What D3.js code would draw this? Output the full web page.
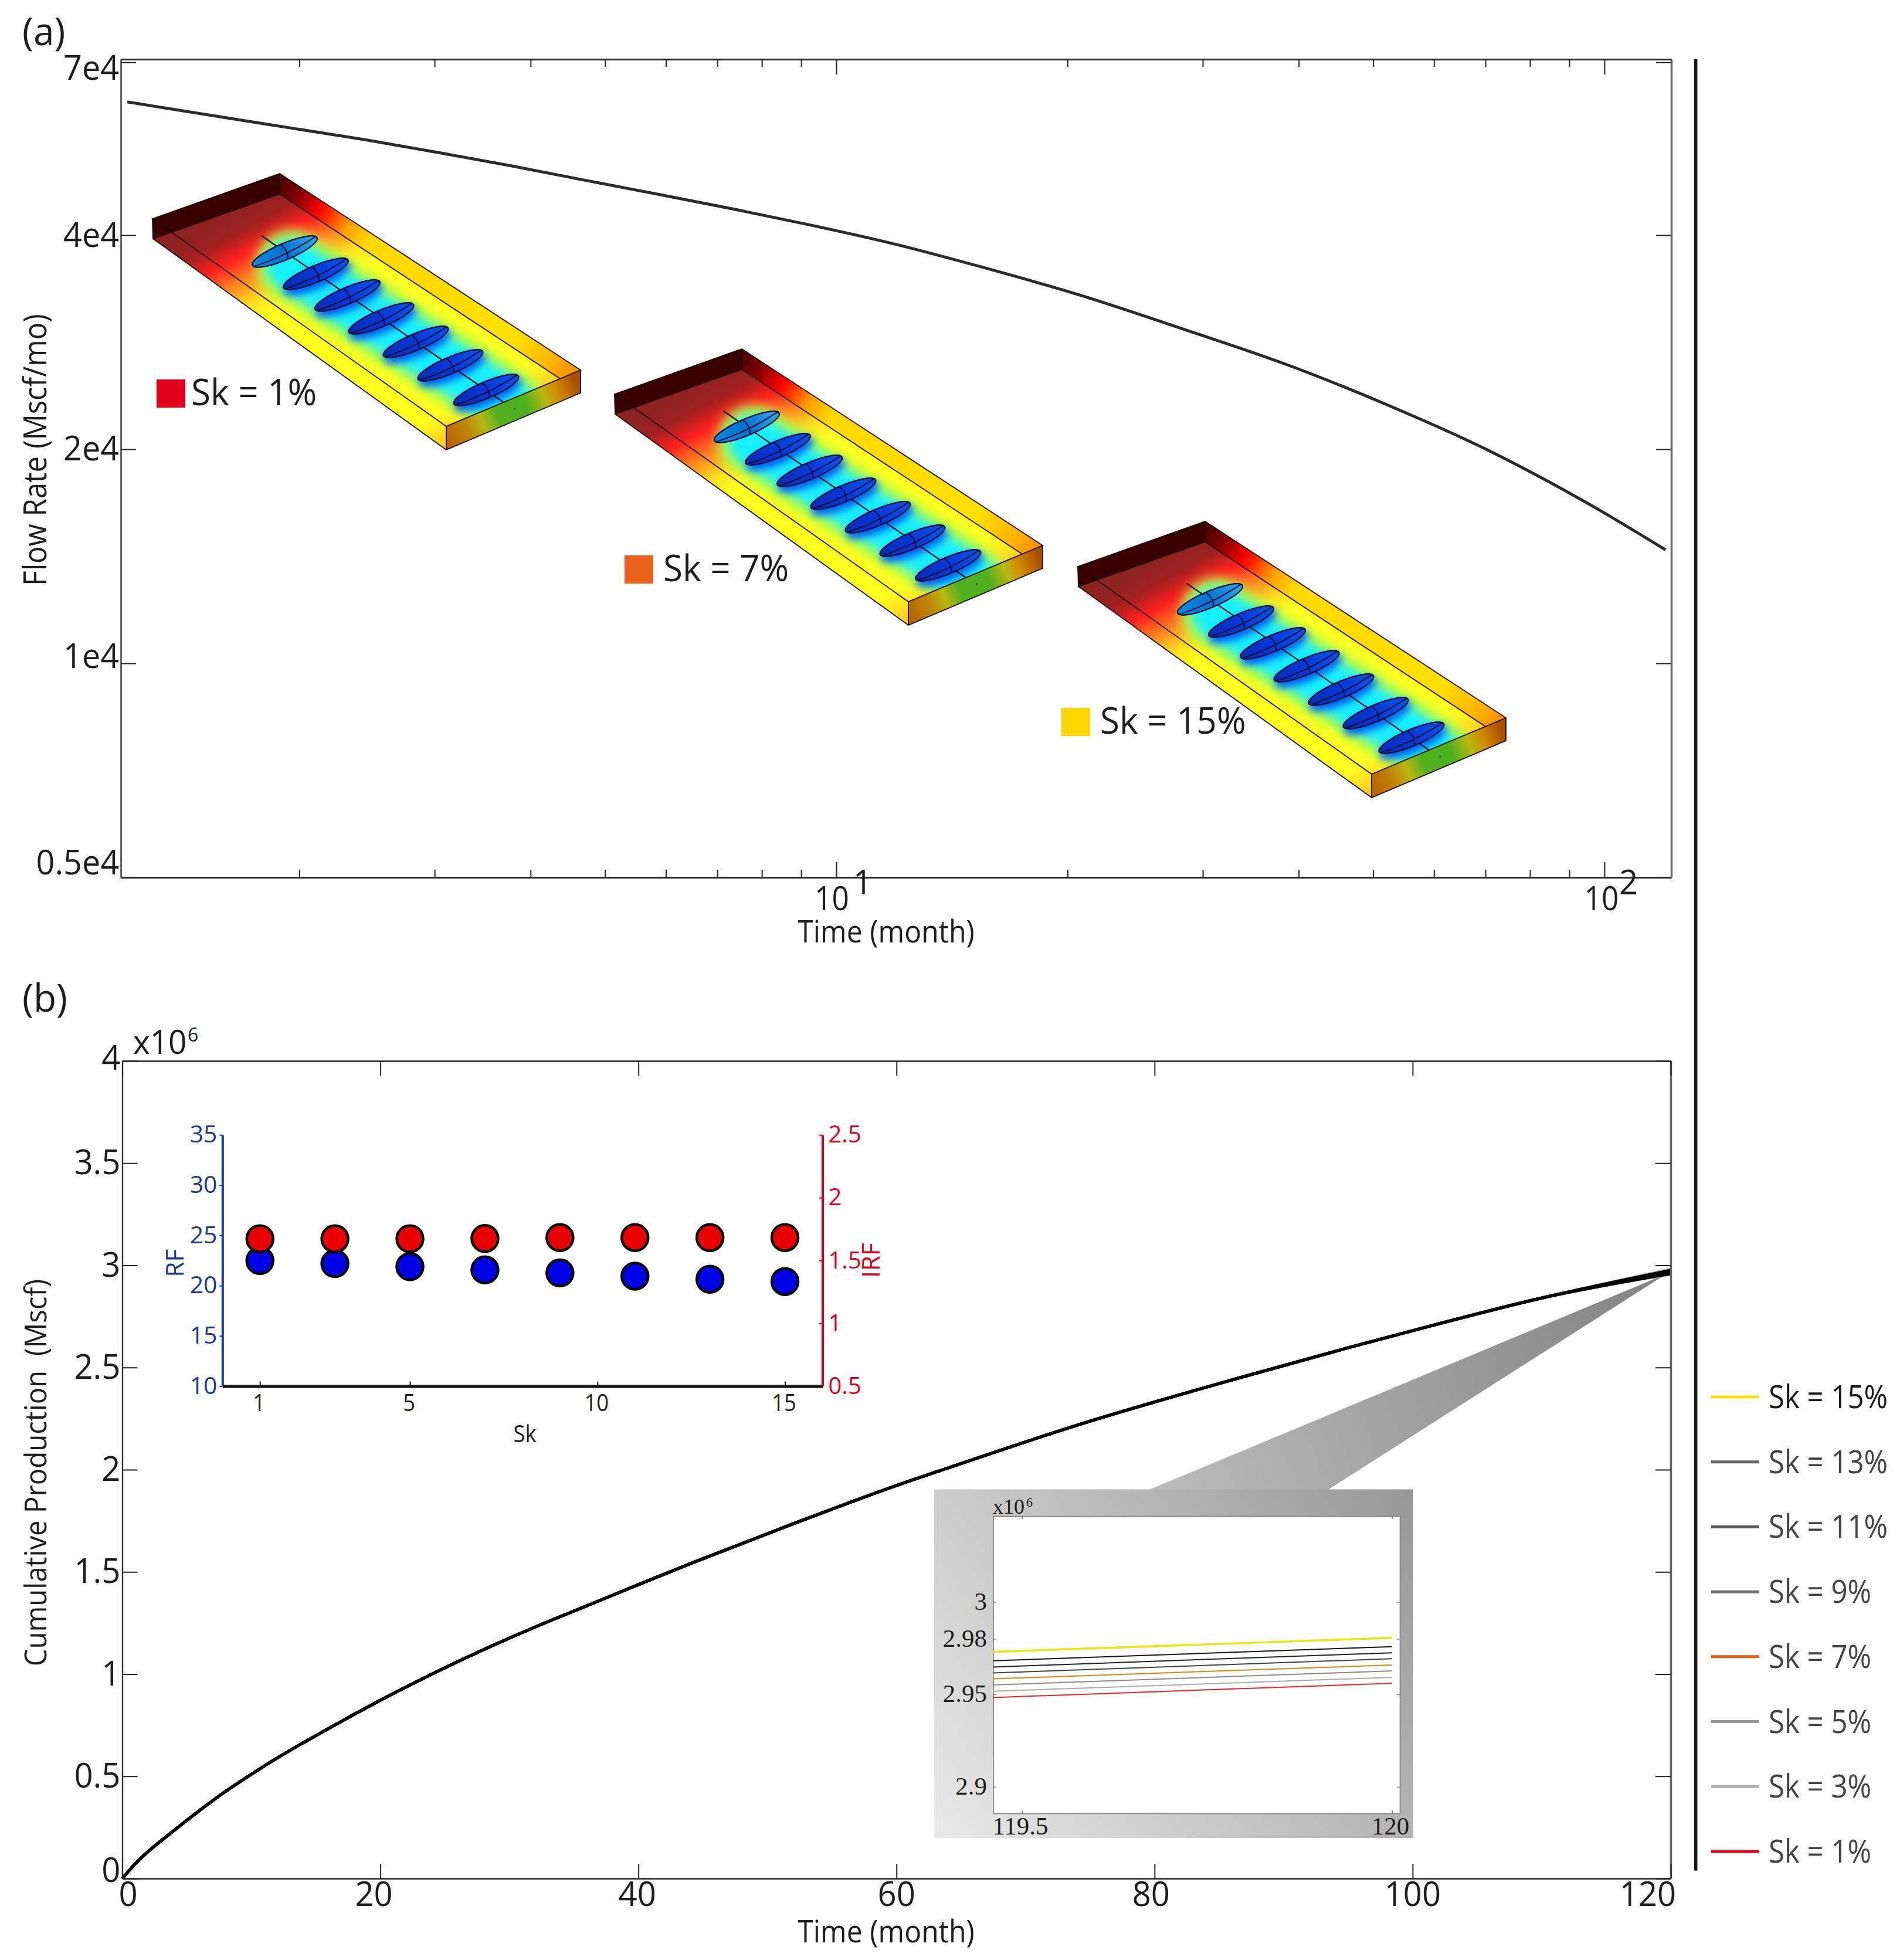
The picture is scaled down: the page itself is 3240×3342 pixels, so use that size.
<!DOCTYPE html>
<html><head><meta charset="utf-8">
<script src="https://cdn.jsdelivr.net/npm/d3@7/dist/d3.min.js"></script>
<style>html,body{margin:0;padding:0;background:#fff}svg{display:block}text{font-family:"Open Sans",sans-serif;fill:#1d1d1b}</style>
</head><body><svg id="c" width="3240" height="3342" viewBox="0 0 3240 3342"></svg>
<script>
// ---------- data ----------
const flowTime = [1.194,1.557,1.947,2.43,3.031,3.783,4.73,5.902,7.366,9.19,11.8,15.43,20.96,28.4,38.6,52.3,71,96.2,120.1];
const flowRate = [61570,58800,56600,54500,52270,50040,47730,45600,43500,41400,38960,36100,32830,29470,26300,23060,19870,16670,14440];
const flowTicks = [5000,10000,20000,40000,70000];
const flowTickLabels = ["0.5e4","1e4","2e4","4e4","7e4"];
const timeMinor = [2,3,4,5,6,7,8,9,20,30,40,50,60,70,80,90];
const timeMajor = [10,100];

const cumTime = [0,1,2.06,3.68,5.71,7.73,9.76,11.78,13.8,15.83,17.85,19.88,23.93,27.98,32.02,36.07,40.12,44.17,48.22,52.27,56.32,60.36,63.12,74,87,94.9,101.9,110,120];
const cumShared = [0,.072,.135,.218,.319,.414,.5,.581,.656,.728,.799,.868,.998,1.119,1.231,1.336,1.441,1.544,1.643,1.742,1.838,1.931,1.99,2.218,2.457,2.595,2.712,2.84];
const skLevels = [15,13,11,9,7,5,3,1];
const cumAt120 = [2.9806,2.9758,2.9725,2.9693,2.9659,2.9627,2.9592,2.956];
const cumAt1195 = [2.973,2.9682,2.9648,2.9616,2.9584,2.9551,2.9517,2.9483];
const legendColors = ["#ffdc00","#666666","#555555","#707070","#e8601c","#9a9a9a","#b2b2b2","#e2001a"];
const zoomColors = ["#efe31c","#161616","#222222","#444444","#d48a12","#8c8c8c","#ababab","#ee2222"];
const cumTicks = [0,.5,1,1.5,2,2.5,3,3.5,4];
const cumTimeTicks = [0,20,40,60,80,100,120];

const skPoints = [1,3,5,7,9,11,13,15];
const rfValues = [22.49,22.19,21.89,21.57,21.27,20.94,20.64,20.41];
const irfValues = [1.673,1.673,1.673,1.675,1.682,1.682,1.682,1.682];
const rfTicks = [10,15,20,25,30,35];
const irfTicks = [.5,1,1.5,2,2.5];
const skTicks = [1,5,10,15];
const zoomTimeTicks = [119.5,120];
const zoomCumTicks = [2.9,2.95,2.98,3];

const svg = d3.select("#c");
const defs = svg.append("defs");

function grad(id,x1,y1,x2,y2,stops){
  const g=defs.append("linearGradient").attr("id",id).attr("gradientUnits","userSpaceOnUse")
    .attr("x1",x1).attr("y1",y1).attr("x2",x2).attr("y2",y2);
  stops.forEach(s=>g.append("stop").attr("offset",s[0]).attr("stop-color",s[1]));
}
function txt(x,y,s,size,o={}){
  const t=svg.append("text").attr("x",x).attr("y",y).attr("font-size",size).text(s);
  if(o.anchor)t.attr("text-anchor",o.anchor);
  if(o.fill)t.style("fill",o.fill);
  if(o.cls)t.attr("class",o.cls);
  if(o.f)t.attr("data-f",o.f);
  if(o.rot!==undefined)t.attr("transform",`rotate(${o.rot} ${x} ${y})`);
  return t;
}
function styleAxis(g,stroke,width,tickW){
  g.selectAll(".domain").attr("stroke",stroke).attr("stroke-width",width);
  g.selectAll(".tick line").attr("stroke","#222").attr("stroke-width",tickW||2);
  return g;
}
function put(axis,x,y){return svg.append("g").attr("transform",`translate(${x},${y})`).call(axis);}
const blank=()=>"";

// ---------- panel (a) ----------
const A={l:206,r:2850,t:101,b:1496};
const xA=d3.scaleLog().domain([1.171,122.2]).range([A.l,A.r]);
const yA=d3.scaleLog().domain([5000,70700]).range([A.b,A.t]);

// reservoir picture (decoration, repeated three times)
grad("wallR",477,296,990,631,[[0,"#450000"],[.07,"#7a0000"],[.14,"#f00000"],[.17,"#ff2000"],[.24,"#ffa000"],[.31,"#ffd800"],[.8,"#ffe000"],[.93,"#ffb000"],[1,"#ff8a00"]]);
grad("front",761,767,990,670,[[0,"#b85c00"],[.2,"#c08a08"],[.3,"#b8b810"],[.42,"#52b020"],[.62,"#4cb020"],[.76,"#b8b810"],[.86,"#d08a00"],[1,"#a85000"]]);
grad("floor",369,369,623,834,[[0,"#8c2222"],[.08,"#a02020"],[.15,"#ff2020"],[.22,"#ff8020"],[.3,"#ffe020"],[.36,"#ffff20"],[.9,"#ffff20"],[1,"#ffc820"]]);
grad("wellB",-50,10,50,-10,[[0,"#0a2cb8"],[.5,"#0838d8"],[1,"#0a50e8"]]);
grad("wellC",-50,10,50,-10,[[0,"#0a88e0"],[.5,"#0a70d0"],[1,"#2aa4ea"]]);
defs.append("filter").attr("id","b18").attr("x","-40%").attr("y","-40%").attr("width","180%").attr("height","180%").append("feGaussianBlur").attr("stdDeviation",10);
defs.append("filter").attr("id","b8").attr("x","-40%").attr("y","-100%").attr("width","180%").attr("height","300%").append("feGaussianBlur").attr("stdDeviation",7);
const floorPts="261,407 477,331 954,645 761,727 761,767";
defs.append("clipPath").attr("id","floorClip").append("polygon").attr("points",floorPts);
const res=defs.append("g").attr("id","reservoir");
res.append("polygon").attr("points",floorPts).attr("fill","url(#floor)");
const heat=res.append("g").attr("clip-path","url(#floorClip)");
const wellCentres=[[485.5,429],[538.5,467],[592.6,504],[650,543],[709,583],[768,623],[829,665]];
const bandLine=d3.line()([[497,452],wellCentres[6],[880,700]]);
heat.append("path").attr("d",bandLine).attr("fill","none").attr("stroke","#b8ff40").attr("stroke-width",120).attr("stroke-linecap","round").attr("filter","url(#b18)");
heat.append("path").attr("d",bandLine).attr("fill","none").attr("stroke","#18f0ff").attr("stroke-width",88).attr("stroke-linecap","round").attr("filter","url(#b18)");
wellCentres.forEach((c,i)=>{ if(i===0)return;
  heat.append("ellipse").attr("cx",c[0]+3).attr("cy",c[1]+8).attr("rx",62).attr("ry",16)
   .attr("transform",`rotate(-23 ${c[0]+3} ${c[1]+8})`).attr("fill","#0058f4").attr("filter","url(#b8)");
});
res.append("polygon").attr("points","260,373 477,296 477,331 261,407").attr("fill","#3a0000");
res.append("polygon").attr("points","477,296 990,631 954,645 477,331").attr("fill","url(#wallR)");
res.append("polygon").attr("points","761,727 990,631 990,670 761,767").attr("fill","url(#front)");
res.append("line").attr("x1",446).attr("y1",402).attr("x2",859).attr("y2",686).attr("stroke","#10101a").attr("stroke-width",2.2);
wellCentres.forEach((c,i)=>{
  const g=res.append("g").attr("transform",`translate(${c[0]},${c[1]}) rotate(-23)`);
  g.append("ellipse").attr("rx",60).attr("ry",14).attr("fill",i===0?"url(#wellC)":"url(#wellB)").attr("stroke","#001038").attr("stroke-width",2.2);
  g.append("path").attr("d","M-58,3 Q0,8 58,-3 M-2,-14 Q7,0 0,14").attr("fill","none").attr("stroke","#001038").attr("stroke-width",2);
});
res.append("path").attr("d","M260,373 L477,296 L990,631 L761,727 Z M260,373 L261,407 L477,331 L954,645 M477,296 L477,331 M261,407 L761,767 L990,670 L990,631 M761,727 L761,767")
  .attr("fill","none").attr("stroke","#1a0a00").attr("stroke-width",1.8);
res.append("circle").attr("cx",877.6).attr("cy",697).attr("r",1.6).attr("fill","#063");
[[0,0],[788,299],[1578,593]].forEach(d=>svg.append("use").attr("href","#reservoir").attr("x",d[0]).attr("y",d[1]));

// panel (a) axes
styleAxis(put(d3.axisLeft(yA).tickValues(flowTicks).tickSize(-26).tickSizeOuter(0).tickPadding(3)
   .tickFormat((d,i)=>flowTickLabels[i]),A.l,0),"#333",2.4);
const aShift={5000:-24,10000:-11,20000:0,40000:1,70000:11};
styleAxis(put(d3.axisRight(yA).tickValues(flowTicks).tickSize(-26).tickSizeOuter(0).tickFormat(blank),A.r,0),"#666",3.5);
[[d3.axisBottom,A.b],[d3.axisTop,A.t]].forEach(([ax,y])=>{
  styleAxis(put(ax(xA).tickValues(timeMinor).tickSize(-13).tickSizeOuter(0).tickFormat(blank),0,y),"#222",2.6);
  styleAxis(put(ax(xA).tickValues(timeMajor).tickSize(-26).tickSizeOuter(0).tickFormat(blank),0,y),"#222",2.6);
});
svg.selectAll("text").filter(function(){return flowTickLabels.includes(d3.select(this).text());})
  .attr("font-size",58).attr("data-f",.96).each(function(d){d3.select(this).attr("transform",`translate(0,${aShift[d]})`);});

const lineA=d3.line().x((d,i)=>xA(flowTime[i])).y(d=>yA(d)).curve(d3.curveMonotoneX);
svg.append("path").attr("d",lineA(flowRate)).attr("fill","none").attr("stroke","#2b2b2b").attr("stroke-width",5);

txt(38,77,"(a)",66,{f:.97});
txt(38,1725,"(b)",66,{f:.97});
timeMajor.forEach((t,i)=>{
  txt(xA(t)-(i?5:7.5),1552,"10",56,{anchor:"middle",f:.92});
  txt(xA(t)+(i?25:29),1525,["1","2"][i],25,{f:.95});
});
txt(1511,1607,"Time (month)",53,{anchor:"middle"});
txt(79,767,"Flow Rate (Mscf/mo)",54,{anchor:"middle",rot:-90});

// coloured keys on the reservoir pictures
const swatchKeys=[["Sk = 1%","#e2001a",267,647,326,691],["Sk = 7%","#e8601c",1065,947,1131,991],["Sk = 15%","#ffd500",1810,1207,1876,1251]];
swatchKeys.forEach(k=>{
  svg.append("rect").attr("x",k[2]).attr("y",k[3]).attr("width",49).attr("height",48).attr("fill",k[1]);
  txt(k[4],k[5],k[0],62,{f:.97});
});

// ---------- panel (b) ----------
const B={l:208.5,r:2849,t:1809,b:3203};
const xB=d3.scaleLinear().domain([0,120]).range([B.l,B.r]);
const yB=d3.scaleLinear().domain([0,4]).range([B.b,B.t]);

// funnel and grey box behind the zoom inset
grad("funnelG",1960,2539,2840,2170,[[0,"#bcbcbc"],[1,"#828282"]]);
grad("boxG",1593,3134,2410,2539,[[0,"#e9e9e9"],[1,"#979797"]]);
svg.append("polygon").attr("points","1960,2540 2265,2540 2842,2172").attr("fill","url(#funnelG)");
svg.append("rect").attr("x",1593).attr("y",2539.5).attr("width",817).attr("height",594.5).attr("fill","url(#boxG)");

const lineB=d3.line().x((d,i)=>xB(cumTime[i])).y(d=>yB(d)).curve(d3.curveMonotoneX);
skLevels.map((s,i)=>i).sort((a,b)=>Math.abs(b-3.5)-Math.abs(a-3.5)).forEach(i=>{
  const edge=i===0||i===7;
  svg.append("path").attr("d",lineB(cumShared.concat([cumAt120[i]]))).attr("fill","none")
   .attr("stroke",edge?"#a8a8a8":"#000").attr("stroke-width",5);
});

styleAxis(put(d3.axisLeft(yB).tickValues(cumTicks).tickSize(-26).tickSizeOuter(0).tickPadding(3).tickFormat(d3.format("~g")),B.l,0),"#333",2.4);
styleAxis(put(d3.axisRight(yB).tickValues(cumTicks).tickSize(-26).tickSizeOuter(0).tickFormat(blank),B.r,0),"#666",3.5);
styleAxis(put(d3.axisBottom(xB).tickValues(cumTimeTicks).tickSize(-25).tickSizeOuter(0).tickFormat(blank),0,B.b),"#222",2.4);
styleAxis(put(d3.axisTop(xB).tickValues(cumTimeTicks).tickSize(-25).tickSizeOuter(0).tickFormat(blank),0,B.t),"#222",2.4);
svg.selectAll("text").filter(function(){return cumTicks.map(d3.format("~g")).includes(d3.select(this).text());})
  .attr("font-size",58).attr("data-f",.97).each(function(d){ if(d===0)d3.select(this).attr("transform","translate(0,-13)"); if(d===4)d3.select(this).attr("transform","translate(0,-4)");});
const bLabelDx={0:10,20:-11,40:-2,60:0,80:-6,100:0,120:-39};
cumTimeTicks.forEach(t=>txt(xB(t)+bLabelDx[t],3250,String(t),58,{anchor:"middle",f:.97}));
txt(1511,3312,"Time (month)",53,{anchor:"middle"});
txt(79,2511,"Cumulative Production  (Mscf)",52,{anchor:"middle",rot:-90}).style("white-space","pre");
txt(227,1797,"x10",56,{f:.98});
txt(320,1776,"6",32,{f:1});

// ---------- scatter inset ----------
const S={l:379.3,r:1402.5,t:1935,b:2363.6};
const xS=d3.scaleLinear().domain([0,16]).range([S.l,S.r]);
const yRF=d3.scaleLinear().domain([10,35]).range([S.b,S.t]);
const yIRF=d3.scaleLinear().domain([.5,2.5]).range([S.b,S.t]);
const blue="#1a3a8f", red="#e2001a";
const gRF=put(d3.axisLeft(yRF).tickValues(rfTicks).tickSize(5).tickSizeOuter(0).tickPadding(4),S.l,0);
gRF.selectAll(".domain").attr("stroke",blue).attr("stroke-width",4);
gRF.selectAll(".tick line").attr("stroke",blue).attr("stroke-width",2);
gRF.selectAll("text").attr("font-size",40).attr("data-f",1.02).style("fill",blue);
const gIRF=put(d3.axisRight(yIRF).tickValues(irfTicks).tickSize(6).tickSizeOuter(0).tickPadding(4).tickFormat(d3.format("~g")),S.r,0);
gIRF.selectAll(".domain").attr("stroke",red).attr("stroke-width",4);
gIRF.selectAll(".tick line").attr("stroke",red).attr("stroke-width",2).attr("x2",-6);
gIRF.selectAll("text").attr("font-size",40).attr("data-f",1).style("fill",red);
const gSk=put(d3.axisBottom(xS).tickValues(skTicks).tickSize(-8).tickSizeOuter(0).tickPadding(14),0,S.b);
gSk.selectAll(".domain").attr("stroke","#1a1a1a").attr("stroke-width",5.5);
gSk.selectAll(".tick line").attr("stroke","#1a1a1a").attr("stroke-width",2);
gSk.selectAll("text").attr("font-size",40).attr("x",-2);
txt(895,2459,"Sk",40,{anchor:"middle"});
txt(313,2153.7,"RF",42,{anchor:"middle",rot:-90,fill:blue,f:1});
txt(1500,2149,"IRF",42,{anchor:"middle",rot:-90,fill:red,f:1});
svg.append("g").selectAll("circle").data(skPoints).join("circle")
  .attr("cx",d=>xS(d)).attr("cy",(d,i)=>yRF(rfValues[i])).attr("r",22.5).attr("fill","#0000e6").attr("stroke","#000").attr("stroke-width",4.5);
svg.append("g").selectAll("circle").data(skPoints).join("circle")
  .attr("cx",d=>xS(d)).attr("cy",(d,i)=>yIRF(irfValues[i])).attr("r",22.5).attr("fill","#ea0000").attr("stroke","#000").attr("stroke-width",4.5);

// ---------- zoom inset ----------
const Z={l:1693.5,r:2387,t:2585,b:3092};
const xZ=d3.scaleLinear().domain([119.461,120.0105]).range([Z.l,Z.r]);
const yZ=d3.scaleLinear().domain([2.8856,3.0465]).range([Z.b,Z.t]);
svg.append("rect").attr("x",Z.l).attr("y",Z.t).attr("width",Z.r-Z.l).attr("height",Z.b-Z.t).attr("fill","#fff");
const zoomAxis=(ax,x,y,vals)=>{const g=put(ax.tickValues(vals).tickSize(-5).tickSizeOuter(0).tickFormat(blank),x,y);
  g.selectAll(".domain").attr("stroke","#7a7a7a").attr("stroke-width",1.6);
  g.selectAll(".tick line").attr("stroke","#7a7a7a").attr("stroke-width",1.4);};
zoomAxis(d3.axisLeft(yZ),Z.l,0,zoomCumTicks);
zoomAxis(d3.axisRight(yZ),Z.r,0,zoomCumTicks);
zoomAxis(d3.axisBottom(xZ),0,Z.b,zoomTimeTicks);
zoomAxis(d3.axisTop(xZ),0,Z.t,zoomTimeTicks);
skLevels.forEach((s,i)=>{
  svg.append("line").attr("x1",xZ(119.461)).attr("y1",yZ(cumAt1195[i])).attr("x2",xZ(120)).attr("y2",yZ(cumAt120[i]))
    .attr("stroke",zoomColors[i]).attr("stroke-width",i===0?3.6:2);
});
const serifT=(x,y,s,size,anchor)=>txt(x,y,s,size,{anchor,cls:"serif"}).style("font-family",'"Liberation Serif",serif');
[["3",3],["2.98",2.98],["2.95",2.95],["2.9",2.9]].forEach(d=>serifT(1683,yZ(d[1])+13,d[0],43,"end"));
serifT(1740,3128,"119.5",43,"middle");
serifT(2371,3128,"120",43,"middle");
serifT(1693,2581,"x10",36,"start");
serifT(1750,2569,"6",22,"start");

// ---------- divider and legend ----------
svg.append("rect").attr("x",2889).attr("y",101).attr("width",5.5).attr("height",3088.6).attr("fill","#1a1a1a");
const yLeg=d3.scalePoint().domain(skLevels).range([2382,3157]);
skLevels.forEach((s,i)=>{
  svg.append("line").attr("x1",2918).attr("x2",3000).attr("y1",yLeg(s)).attr("y2",yLeg(s)).attr("stroke",legendColors[i]).attr("stroke-width",5);
  txt(3016,yLeg(s)+19,`Sk = ${s}%`,54,{fill:i===0?"#1a1a1a":"#444"});
});

// narrow the installed face a little towards the original's humanist face
svg.selectAll("text").filter(function(){return !this.classList.contains("serif");}).each(function(){
  const L=this.getComputedTextLength();
  const f=+(this.getAttribute("data-f")||.91);
  if(L>0){this.setAttribute("textLength",L*f);this.setAttribute("lengthAdjust","spacingAndGlyphs");}
});
</script></body></html>
